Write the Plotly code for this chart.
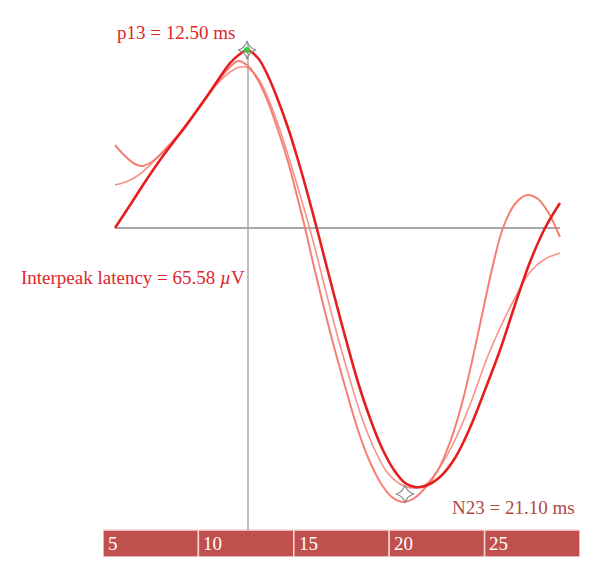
import plotly.graph_objects as go

# ---- data (time in ms, amplitude in arbitrary µV units) ----
t_a = [5.63, 6.42, 7.20, 7.99, 8.77, 9.56, 10.35, 11.03, 11.66, 12.18, 12.55, 13.12, 13.65,
       14.17, 14.70, 15.22, 15.74, 16.16, 16.58, 17.11, 17.74, 18.36, 18.99, 19.62, 20.25,
       20.83, 21.35, 21.88, 22.66, 23.45, 24.23, 25.02, 25.81, 26.59, 27.38, 28.17, 28.95]
v_a = [0.0, 2.3, 4.6, 6.8, 8.8, 10.8, 12.9, 14.8, 16.5, 17.4, 17.8, 17.0, 15.2,
       12.8, 10.0, 6.8, 3.3, 0.3, -2.8, -6.7, -11.2, -15.4, -19.0, -22.0, -24.2,
       -25.5, -25.9, -25.8, -24.9, -23.0, -20.0, -16.2, -12.2, -7.7, -3.4, 0.0, 2.5]

t_b = [5.63, 6.15, 6.68, 7.04, 7.46, 7.99, 8.62, 9.30, 10.08, 10.87, 11.50, 12.08, 12.60,
       13.12, 13.65, 14.17, 14.70, 15.17, 15.59, 15.95, 16.48, 17.11, 17.74, 18.36, 18.99,
       19.62, 20.20, 20.72, 21.25, 21.88, 22.56, 23.19, 23.82, 24.39, 24.92, 25.44, 25.96,
       26.59, 27.22, 27.80, 28.38, 28.95]
v_b = [8.3, 7.2, 6.4, 6.2, 6.5, 7.3, 8.5, 10.0, 12.2, 14.3, 15.8, 16.7, 16.2,
       14.8, 12.6, 9.8, 6.6, 3.2, 0.0, -3.0, -7.2, -11.9, -16.2, -20.2, -23.4,
       -25.7, -27.0, -27.4, -27.1, -26.0, -24.2, -21.4, -17.5, -12.9, -8.2, -3.7, 0.0,
       2.4, 3.3, 2.9, 1.4, -0.9]

t_c = [5.63, 6.31, 6.94, 7.57, 8.20, 8.83, 9.56, 10.35, 11.03, 11.66, 12.18, 12.60, 13.12,
       13.65, 14.17, 14.70, 15.22, 15.74, 16.16, 16.69, 17.32, 17.95, 18.57, 19.20, 19.88,
       20.57, 21.19, 21.88, 22.66, 23.45, 24.23, 25.13, 25.81, 26.59, 27.38, 28.17, 28.95]
v_c = [4.3, 4.7, 5.4, 6.5, 7.8, 9.1, 10.8, 12.8, 14.5, 15.6, 16.1, 16.0, 15.0,
       13.0, 10.4, 7.3, 4.0, 0.6, -2.4, -6.4, -11.0, -15.2, -19.0, -22.0, -24.4,
       -25.6, -26.0, -25.7, -23.9, -21.2, -17.7, -13.0, -10.0, -7.0, -4.4, -3.1, -2.5]

p13_t, p13_v = 12.55, 17.8
n23_t, n23_v = 20.83, -26.6

tick_vals = [5, 10, 15, 20, 25]
tick_labels = ["5", "10", "15", "20", "25"]
cell_width = 5

baseline_t = [5.63, 28.95]
cursor_t = 12.6
cursor_top = 18.5

# ---- layout constants ----
Y_MIN, Y_MAX = -32.9, 21.8
BAR_TOP = -30.2
SERIF = "Liberation Serif"

fig = go.Figure()

# reference lines
fig.add_trace(go.Scatter(x=baseline_t, y=[0, 0], mode="lines",
                         line=dict(color="#a8a8a8", width=2), hoverinfo="skip"))
fig.add_trace(go.Scatter(x=[cursor_t, cursor_t], y=[cursor_top, BAR_TOP], mode="lines",
                         line=dict(color="#a8a8a8", width=1.5), hoverinfo="skip"))

# waveforms
fig.add_trace(go.Scatter(x=t_c, y=v_c, mode="lines", line_shape="spline",
                         line=dict(color="rgba(246,140,128,0.95)", width=1.6)))
fig.add_trace(go.Scatter(x=t_b, y=v_b, mode="lines", line_shape="spline",
                         line=dict(color="rgba(244,120,108,0.95)", width=2)))
fig.add_trace(go.Scatter(x=t_a, y=v_a, mode="lines", line_shape="spline",
                         line=dict(color="#e61e1e", width=2.6)))

# peak markers
fig.add_trace(go.Scatter(x=[p13_t, n23_t], y=[p13_v, n23_v], mode="markers",
                         marker=dict(symbol="star-diamond-open", size=13,
                                     color="#8a8a8a", line=dict(width=1.2))))
fig.add_trace(go.Scatter(x=[p13_t], y=[p13_v], mode="markers",
                         marker=dict(symbol="circle", size=6, color="#3cc83c")))

# bottom scale bar
shapes = []
annotations = []
for v, lab in zip(tick_vals, tick_labels):
    shapes.append(dict(type="rect", xref="x", yref="y", x0=v, x1=v + cell_width,
                       y0=Y_MIN, y1=BAR_TOP, fillcolor="#c0504d",
                       line=dict(color="#f4d8d6", width=1.5), layer="below"))
    annotations.append(dict(x=v + 0.15, y=(Y_MIN + BAR_TOP) / 2, xref="x", yref="y",
                            text=lab, showarrow=False, xanchor="left", yanchor="middle",
                            font=dict(family=SERIF, size=19, color="white")))

annotations += [
    dict(x=5.63, y=19.6, xref="x", yref="y", text="p13 = 12.50 ms", showarrow=False,
         xanchor="left", yanchor="middle",
         font=dict(family=SERIF, size=19, color="#e0262b")),
    dict(x=12.55, y=-4.9, xref="x", yref="y", text="Interpeak latency = 65.58 <i>µ</i>V",
         showarrow=False, xanchor="right", yanchor="middle",
         font=dict(family=SERIF, size=19, color="#e0262b")),
    dict(x=29.85, y=-27.9, xref="x", yref="y", text="N23 = 21.10 ms", showarrow=False,
         xanchor="right", yanchor="middle",
         font=dict(family=SERIF, size=19, color="#b04848")),
]

fig.update_layout(
    width=600, height=582,
    margin=dict(l=95, r=28, t=2, b=33),
    paper_bgcolor="white", plot_bgcolor="white",
    showlegend=False,
    xaxis=dict(range=[5, 30], visible=False, fixedrange=True),
    yaxis=dict(range=[Y_MIN, Y_MAX], visible=False, fixedrange=True),
    shapes=shapes, annotations=annotations,
)

fig.write_html("out.html")
